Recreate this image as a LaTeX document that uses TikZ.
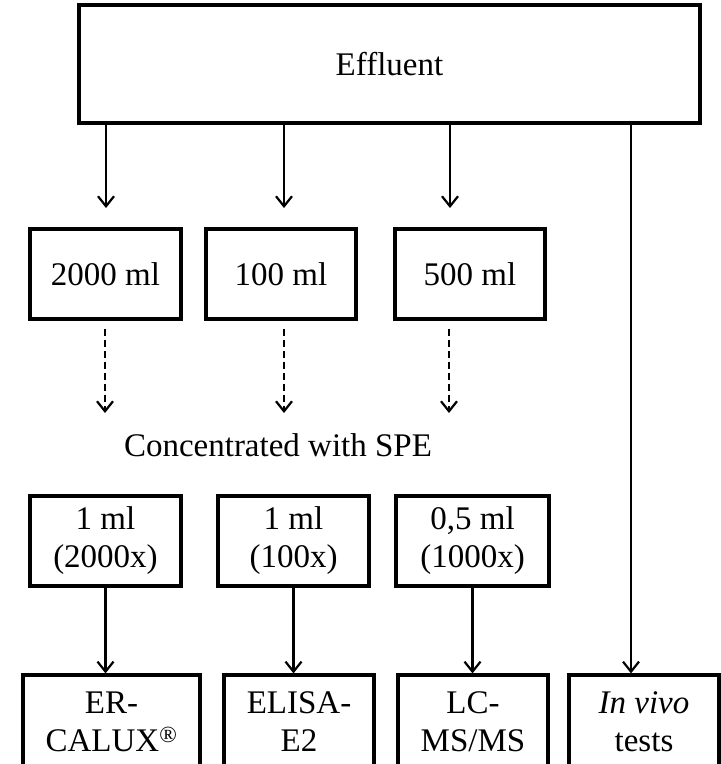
\documentclass[tikz,border=0pt]{standalone}
\usepackage{fontspec}
\setmainfont{Liberation Serif}
\usetikzlibrary{arrows.meta}

\tikzset{
  box/.style={draw, line width=3.2pt, align=center, inner sep=0pt,
    font=\fontsize{33}{38}\selectfont},
  flow/.style={line width=2.2pt, -{Straight Barb[length=10pt,width=16pt,line width=2.2pt]}},
  flowdash/.style={flow, dash pattern=on 7pt off 4pt},
  caption/.style={font=\fontsize{33}{38}\selectfont}
}

\begin{document}
\begin{tikzpicture}[x=1pt,y=-1pt]
\useasboundingbox (0,0) rectangle (721,764);
\clip (0,0) rectangle (721,764);

% source
\node[box, minimum width=621, minimum height=118] (eff) at (389.5,64) {Effluent};

% sample volumes
\node[box, minimum width=151, minimum height=90] (v1) at (105.5,274) {2000 ml};
\node[box, minimum width=150, minimum height=90] (v2) at (281,274) {100 ml};
\node[box, minimum width=150, minimum height=90] (v3) at (470,274) {500 ml};

% extraction step
\node[caption] (spe) at (278,445) {Concentrated with SPE};

% concentrated extracts
\node[box, minimum width=151, minimum height=90] (c1) at (105.5,541) {1 ml\\(2000x)};
\node[box, minimum width=151, minimum height=90] (c2) at (293.5,541) {1 ml\\(100x)};
\node[box, minimum width=153, minimum height=90] (c3) at (472.5,541) {0,5 ml\\(1000x)};

% analyses
\node[box, minimum width=177, minimum height=94] (m1) at (111.5,722) {ER-\\CALUX\textsuperscript{®}};
\node[box, minimum width=150, minimum height=94] (m2) at (299,722) {ELISA-\\E2};
\node[box, minimum width=150, minimum height=94] (m3) at (473,722) {LC-\\MS/MS};
\node[box, minimum width=150, minimum height=94] (m4) at (644,722) {\textit{In vivo}\\tests};

% arrow ends and columns
\coordinate (t1) at (106,208);
\coordinate (t2) at (284,208);
\coordinate (t3) at (450,208);
\coordinate (d1) at (105,413);
\coordinate (d2) at (284,413);
\coordinate (d3) at (449,413);
\coordinate (iv) at (631,0);

% effluent split into volumes
\draw[flow] (eff.south -| t1) -- (t1);
\draw[flow] (eff.south -| t2) -- (t2);
\draw[flow] (eff.south -| t3) -- (t3);

% solid phase extraction
\draw[flowdash, shorten <=8pt] (v1.south -| d1) -- (d1);
\draw[flowdash, shorten <=8pt] (v2.south -| d2) -- (d2);
\draw[flowdash, shorten <=8pt] (v3.south -| d3) -- (d3);

% extracts to analyses
\draw[flow] (c1.south) -- (c1.south |- m1.north);
\draw[flow] (c2.south) -- (c2.south |- m2.north);
\draw[flow] (c3.south) -- (c3.south |- m3.north);

% untreated effluent to in vivo tests
\draw[flow] (eff.south -| iv) -- (iv |- m4.north);
\end{tikzpicture}
\end{document}
